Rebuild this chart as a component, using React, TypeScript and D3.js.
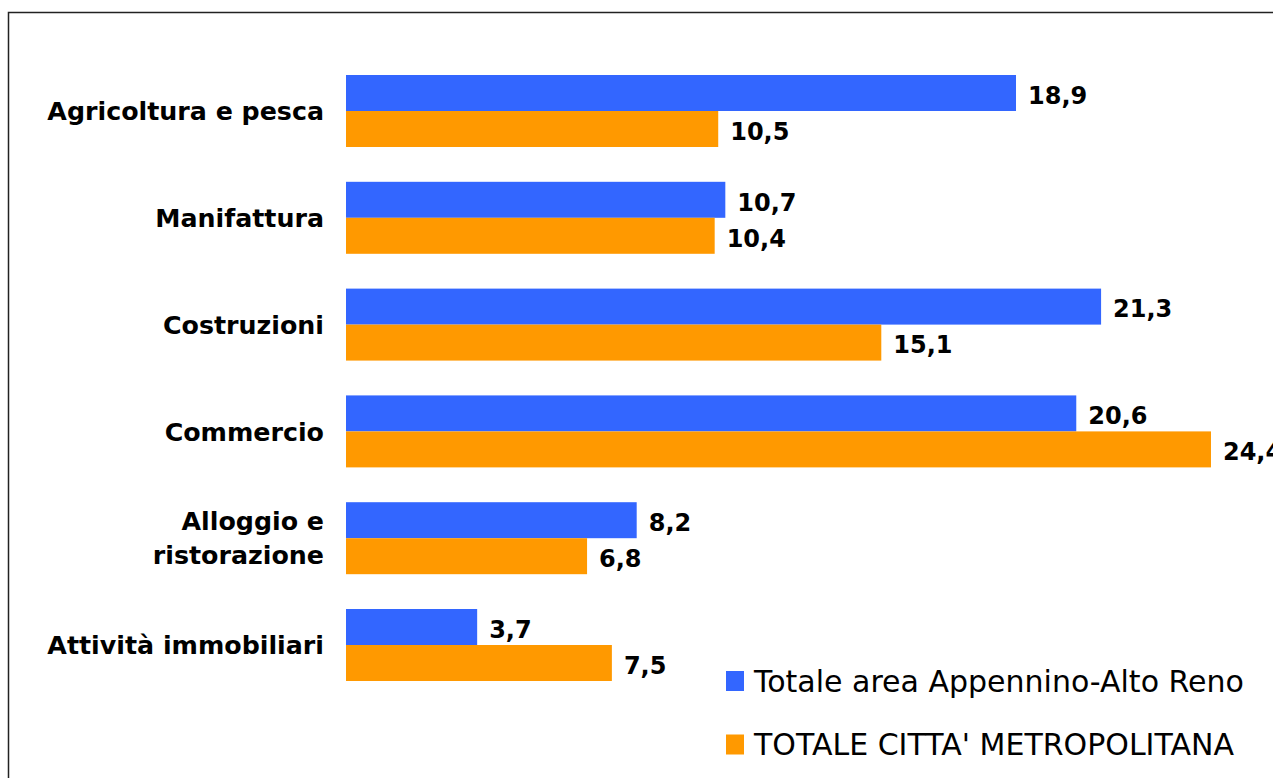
import React from "react";
import * as d3 from "d3";

const categories = [
  ["Agricoltura e pesca"],
  ["Manifattura"],
  ["Costruzioni"],
  ["Commercio"],
  ["Alloggio e", "ristorazione"],
  ["Attività immobiliari"],
];
const seriesNames = ["Totale area Appennino-Alto Reno", "TOTALE CITTA' METROPOLITANA"];
const appennino = [18.9, 10.7, 21.3, 20.6, 8.2, 3.7];
const metropolitana = [10.5, 10.4, 15.1, 24.4, 6.8, 7.5];
const colors = ["#3366FF", "#FF9900"];

const W = 1273;
const H = 778;

export default function App() {
  const keys = categories.map((c) => c.join(" "));
  const y = d3
    .scaleBand<string>()
    .domain(keys)
    .range([57.6, 698.4])
    .paddingInner(0.326)
    .paddingOuter(0.163);
  const x = d3.scaleLinear().domain([0, 10]).range([346, 346 + 354.5]);
  const bw = y.bandwidth() / 2;
  const fmt = (v: number) => v.toFixed(1).replace(".", ",");
  const font = "'DejaVu Sans', Verdana, sans-serif";
  const series = [appennino, metropolitana];

  return (
    <svg
      width={W}
      height={H}
      style={{ position: "absolute", left: 0, top: 0, background: "#fff" }}
      fontFamily={font}
    >
      <rect x={8.5} y={12.5} width={1400} height={900} fill="#fff" stroke="#222" strokeWidth={1.5} />
      {categories.map((c, i) => {
        const key = keys[i];
        const y0 = y(key)!;
        const cy = y0 + bw;
        return (
          <g key={key}>
            {c.map((line, j) => (
              <text
                key={j}
                x={324}
                y={cy + (j - (c.length - 1) / 2) * 34}
                dy="0.36em"
                textAnchor="end"
                fontWeight="bold"
                fontSize={25.3}
                fill="#000"
              >
                {line}
              </text>
            ))}
            {series.map((s, k) => (
              <g key={k}>
                <rect
                  x={x(0)}
                  y={y0 + k * bw}
                  width={x(s[i]) - x(0)}
                  height={bw}
                  fill={colors[k]}
                />
                <text
                  x={x(s[i]) + 12}
                  y={y0 + k * bw + bw / 2}
                  dy="0.45em"
                  fontWeight="bold"
                  fontSize={24}
                  fill="#000"
                >
                  {fmt(s[i])}
                </text>
              </g>
            ))}
          </g>
        );
      })}
      {seriesNames.map((n, k) => (
        <g key={n}>
          <rect x={726} y={671 + k * 63.5} width={18} height={20} fill={colors[k]} />
          <text x={754} y={692 + k * 63} fontSize={30} fill="#000">
            {n}
          </text>
        </g>
      ))}
    </svg>
  );
}
